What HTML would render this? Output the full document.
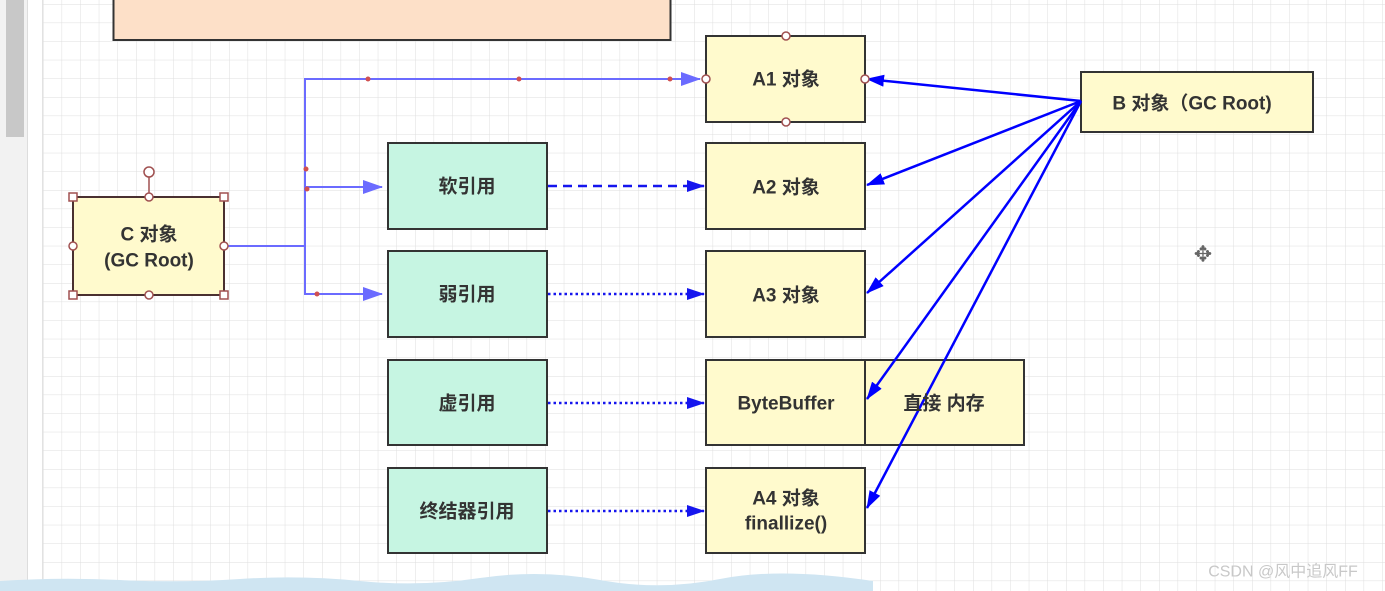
<!DOCTYPE html>
<html><head><meta charset="utf-8"><style>
html,body{margin:0;padding:0;width:1385px;height:591px;overflow:hidden;background:#fff}
svg{display:block}
text{font-family:"Liberation Sans","Noto Sans CJK SC",sans-serif;font-weight:bold;font-size:19px;fill:#333;text-anchor:middle;dominant-baseline:central}
</style></head><body>
<svg width="1385" height="591" viewBox="0 0 1385 591" xmlns="http://www.w3.org/2000/svg">
<defs>
<pattern id="g" x="43" y="4" width="18.6" height="18.6" patternUnits="userSpaceOnUse">
<path d="M0 0H18.6M0 0V18.6" stroke="#dedede" stroke-width="1" fill="none"/>
</pattern>
<marker id="a2" markerWidth="18" markerHeight="12" refX="17" refY="6" orient="auto" markerUnits="userSpaceOnUse"><path d="M0 0L18 6L0 12Z" fill="#1515ee"/></marker>
<marker id="a3" markerWidth="18" markerHeight="12" refX="17" refY="6" orient="auto" markerUnits="userSpaceOnUse"><path d="M0 0L18 6L0 12Z" fill="#0000ff"/></marker>
<marker id="a4" markerWidth="20" markerHeight="14" refX="19" refY="7" orient="auto" markerUnits="userSpaceOnUse"><path d="M0 0L20 7L0 14Z" fill="#6b6bff"/></marker>
</defs>
<rect x="0" y="0" width="1385" height="591" fill="#fff"/>
<rect x="43" y="0" width="1342" height="591" fill="url(#g)"/>
<rect x="0" y="0" width="27" height="591" fill="#f2f2f2"/>
<rect x="6" y="0" width="18" height="137" fill="#c8c8c8"/>
<line x1="27.5" y1="0" x2="27.5" y2="591" stroke="#ddd"/>
<line x1="42.5" y1="0" x2="42.5" y2="591" stroke="#e2e2e2"/>
<path d="M0 581 Q60 577 120 580 T240 579 T360 581 T480 578 T600 580 T720 579 T873 581 V591 H0Z" fill="#cfe5f2"/>

<rect x="113.5" y="-5" width="557" height="45" fill="#fde0c8" stroke="#333" stroke-width="2"/>

<g stroke="#6b6bff" stroke-width="2" fill="none">
<path d="M226 246H305V79H700" marker-end="url(#a4)"/>
<path d="M305 187H382" marker-end="url(#a4)"/>
<path d="M305 246V294H382" marker-end="url(#a4)"/>
</g>
<g fill="#d05050"><circle cx="368" cy="79" r="2.5"/><circle cx="519" cy="79" r="2.5"/><circle cx="670" cy="79" r="2.5"/><circle cx="306" cy="169" r="2.5"/><circle cx="307" cy="189" r="2.5"/><circle cx="317" cy="294" r="2.5"/></g>

<line x1="548" y1="186" x2="704" y2="186" stroke="#1515ee" stroke-width="2.5" stroke-dasharray="9,6" marker-end="url(#a2)"/>
<g stroke="#1515ee" stroke-width="2.5" stroke-dasharray="2.5,3">
<line x1="548" y1="294" x2="704" y2="294" marker-end="url(#a2)"/>
<line x1="548" y1="403" x2="704" y2="403" marker-end="url(#a2)"/>
<line x1="548" y1="511" x2="704" y2="511" marker-end="url(#a2)"/>
</g>

<g stroke="#333" stroke-width="2">
<rect x="73" y="197" width="151" height="98" fill="#fffacd" stroke="#4a3030"/>
<rect x="388" y="143" width="159" height="86" fill="#c6f5e2"/>
<rect x="388" y="251" width="159" height="86" fill="#c6f5e2"/>
<rect x="388" y="360" width="159" height="85" fill="#c6f5e2"/>
<rect x="388" y="468" width="159" height="85" fill="#c6f5e2"/>
<rect x="706" y="36" width="159" height="86" fill="#fffacd"/>
<rect x="706" y="143" width="159" height="86" fill="#fffacd"/>
<rect x="706" y="251" width="159" height="86" fill="#fffacd"/>
<rect x="706" y="360" width="159" height="85" fill="#fffacd"/>
<rect x="865" y="360" width="159" height="85" fill="#fffacd"/>
<rect x="706" y="468" width="159" height="85" fill="#fffacd"/>
<rect x="1081" y="72" width="232" height="60" fill="#fffacd"/>
</g>

<g stroke="#0000ff" stroke-width="2.5" fill="none">
<line x1="1081" y1="101" x2="867" y2="79" marker-end="url(#a3)"/>
<line x1="1081" y1="101" x2="867" y2="185" marker-end="url(#a3)"/>
<line x1="1081" y1="101" x2="867" y2="293" marker-end="url(#a3)"/>
<line x1="1081" y1="101" x2="867" y2="399" marker-end="url(#a3)"/>
<line x1="1081" y1="101" x2="867" y2="508" marker-end="url(#a3)"/>
</g>

<g fill="#fff" stroke="#a05050" stroke-width="1.5">
<line x1="149" y1="177" x2="149" y2="197"/>
<circle cx="149" cy="172" r="5"/>
<circle cx="149" cy="197" r="4"/><circle cx="149" cy="295" r="4"/><circle cx="73" cy="246" r="4"/><circle cx="224" cy="246" r="4"/>
<rect x="69" y="193" width="8" height="8"/><rect x="220" y="193" width="8" height="8"/><rect x="69" y="291" width="8" height="8"/><rect x="220" y="291" width="8" height="8"/>
<circle cx="786" cy="36" r="4"/><circle cx="786" cy="122" r="4"/><circle cx="706" cy="79" r="4"/><circle cx="865" cy="79" r="4"/>
</g>

<text x="149" y="235">C 对象</text>
<text x="149" y="261">(GC Root)</text>
<text x="467" y="187">软引用</text>
<text x="467" y="295">弱引用</text>
<text x="467" y="404">虚引用</text>
<text x="467" y="512">终结器引用</text>
<text x="786" y="80">A1 对象</text>
<text x="786" y="188">A2 对象</text>
<text x="786" y="296">A3 对象</text>
<text x="786" y="404">ByteBuffer</text>
<text x="944" y="404">直接 内存</text>
<text x="786" y="499">A4 对象</text>
<text x="786" y="524">finallize()</text>
<text x="1192" y="104">B 对象（GC Root)</text>
<text x="1203" y="254" style="font-size:22px;fill:#666;font-weight:normal">✥</text>
<text x="1283" y="572" style="font-size:16px;fill:#c8c8c8;font-weight:normal">CSDN @风中追风FF</text>
</svg>
</body></html>
